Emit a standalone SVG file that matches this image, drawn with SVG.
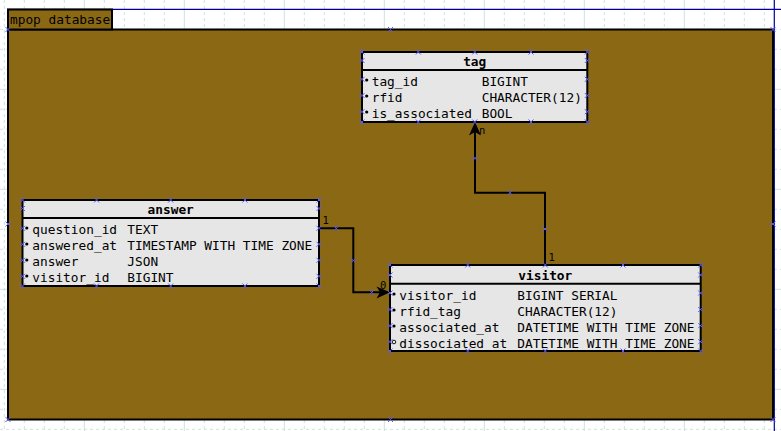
<svg xmlns="http://www.w3.org/2000/svg" xmlns:xlink="http://www.w3.org/1999/xlink" width="781" height="431" viewBox="0 0 781 431">
<style>
.t{font-family:"DejaVu Sans Mono","Liberation Mono",monospace;font-size:12.8px;fill:#000}
.h{font-family:"DejaVu Sans Mono","Liberation Mono",monospace;font-size:12.8px;font-weight:bold;fill:#000;text-anchor:middle}
.lbl{font-family:"DejaVu Sans Mono","Liberation Mono",monospace;font-size:10.5px;fill:#000}
.tbl{fill:#e6e6e6;stroke:#000;stroke-width:2}
.sep{stroke:#000;stroke-width:2}
.con{fill:none;stroke:#000;stroke-width:2}
.gmin{fill:none;stroke:#cfe0e0;stroke-width:1;stroke-dasharray:3 3}
.gmaj{fill:none;stroke:#cfe0e0;stroke-width:1}
.cp{stroke:#5a5aff;stroke-width:1;fill:none}
</style>
<defs>
<path id="cx" d="M-2.5-2.5L2.5 2.5M-2.5 2.5L2.5-2.5" class="cp"/>
</defs>
<rect width="781" height="431" fill="#fff"/>
<g id="grid">
<path class="gmin" d="M4.3 0V431M24.3 0V431M44.3 0V431M64.3 0V431M104.3 0V431M124.3 0V431M144.3 0V431M164.3 0V431M204.3 0V431M224.3 0V431M244.3 0V431M264.3 0V431M304.3 0V431M324.3 0V431M344.3 0V431M364.3 0V431M404.3 0V431M424.3 0V431M444.3 0V431M464.3 0V431M504.3 0V431M524.3 0V431M544.3 0V431M564.3 0V431M604.3 0V431M624.3 0V431M644.3 0V431M664.3 0V431M704.3 0V431M724.3 0V431M744.3 0V431M764.3 0V431"/>
<path class="gmin" d="M0 29.3H781M0 49.3H781M0 69.3H781M0 109.3H781M0 129.3H781M0 149.3H781M0 169.3H781M0 209.3H781M0 229.3H781M0 249.3H781M0 269.3H781M0 309.3H781M0 329.3H781M0 349.3H781M0 369.3H781M0 409.3H781M0 429.3H781"/>
<path class="gmaj" d="M84.3 0V431M184.3 0V431M284.3 0V431M384.3 0V431M484.3 0V431M584.3 0V431M684.3 0V431M0 89.3H781M0 189.3H781M0 289.3H781M0 389.3H781"/>
<path d="M7 9.3H781M774.3 0V431" stroke="#0000a0" stroke-width="1.2" fill="none"/>
</g>
<g id="mpop-database">
<rect x="8" y="29.5" width="765" height="390" fill="#8b6914" stroke="#000" stroke-width="2"/>
<rect x="8" y="9.5" width="104" height="20" fill="#8b6914" stroke="#000" stroke-width="2"/>
<text class="t" x="10" y="24">mpop database</text>
</g>
<g id="tag">
<rect class="tbl" x="362" y="52" width="225.3" height="70"/>
<line class="sep" x1="362" y1="70" x2="587.3" y2="70"/>
<text class="h" x="474.7" y="66">tag</text>
<text class="t" x="371.7" y="85.7">tag_id</text>
<text class="t" x="481.7" y="85.7">BIGINT</text>
<text class="t" x="371.7" y="101.7">rfid</text>
<text class="t" x="481.7" y="101.7">CHARACTER(12)</text>
<text class="t" x="371.7" y="117.7">is_associated</text>
<text class="t" x="481.7" y="117.7">BOOL</text>
<circle cx="366.7" cy="80" r="1.6"/>
<circle cx="366.7" cy="96" r="1.6"/>
<circle cx="366.7" cy="112" r="1.6"/>
</g>
<g id="answer">
<rect class="tbl" x="22.5" y="200" width="296.5" height="86"/>
<line class="sep" x1="22.5" y1="218" x2="319" y2="218"/>
<text class="h" x="170.7" y="214">answer</text>
<text class="t" x="32.3" y="233.7">question_id</text>
<text class="t" x="127.3" y="233.7">TEXT</text>
<text class="t" x="32.3" y="249.7">answered_at</text>
<text class="t" x="127.3" y="249.7">TIMESTAMP WITH TIME ZONE</text>
<text class="t" x="32.3" y="265.7">answer</text>
<text class="t" x="127.3" y="265.7">JSON</text>
<text class="t" x="32.3" y="281.7">visitor_id</text>
<text class="t" x="127.3" y="281.7">BIGINT</text>
<circle cx="26.8" cy="228" r="1.6"/>
<circle cx="26.8" cy="244" r="1.6"/>
<circle cx="26.8" cy="260" r="1.6"/>
<circle cx="26.8" cy="276" r="1.6"/>
</g>
<g id="visitor">
<rect class="tbl" x="390" y="265" width="310.7" height="86"/>
<line class="sep" x1="390" y1="283.7" x2="700.7" y2="283.7"/>
<text class="h" x="545.3" y="279.5">visitor</text>
<text class="t" x="399.3" y="299.5">visitor_id</text>
<text class="t" x="517.3" y="299.5">BIGINT SERIAL</text>
<text class="t" x="399.3" y="315.5">rfid_tag</text>
<text class="t" x="517.3" y="315.5">CHARACTER(12)</text>
<text class="t" x="399.3" y="331.5">associated_at</text>
<text class="t" x="517.3" y="331.5">DATETIME WITH TIME ZONE</text>
<text class="t" x="399.3" y="347.5">dissociated_at</text>
<text class="t" x="517.3" y="347.5">DATETIME WITH TIME ZONE</text>
<circle cx="394" cy="294" r="1.6"/>
<circle cx="394" cy="310" r="1.6"/>
<circle cx="394" cy="326" r="1.6"/>
<circle cx="394" cy="342" r="1.8" fill="none" stroke="#000" stroke-width="0.9"/>
</g>
<g id="connectors">
<path class="con" d="M319 228.3H353.3V292.3H381"/>
<polygon points="390,292.3 376.5,286.5 380,292.3 376.5,298.5"/>
<text class="lbl" x="322.5" y="224">1</text>
<text class="lbl" x="380" y="289">0</text>
<path class="con" d="M545 265V192.7H475V131"/>
<polygon points="475,122 469,135.5 475,132 481,135.5"/>
<text class="lbl" x="479" y="133.5">n</text>
<text class="lbl" x="548.5" y="261">1</text>
</g>
<g id="connection-points">
<use href="#cx" x="8" y="29.5"/><use href="#cx" x="390.5" y="29.5"/><use href="#cx" x="773" y="29.5"/>
<use href="#cx" x="8" y="224"/><use href="#cx" x="773" y="224"/>
<use href="#cx" x="8" y="419.5"/><use href="#cx" x="390.5" y="419.5"/><use href="#cx" x="773" y="419.5"/>
<use href="#cx" x="362" y="52"/><use href="#cx" x="418.3" y="52"/><use href="#cx" x="474.7" y="52"/><use href="#cx" x="531" y="52"/><use href="#cx" x="587.3" y="52"/>
<use href="#cx" x="362" y="122"/><use href="#cx" x="418.3" y="122"/><use href="#cx" x="474.7" y="122"/><use href="#cx" x="531" y="122"/><use href="#cx" x="587.3" y="122"/>
<use href="#cx" x="362" y="60.5"/><use href="#cx" x="362" y="79.3"/><use href="#cx" x="362" y="95.5"/><use href="#cx" x="362" y="111.7"/>
<use href="#cx" x="587.3" y="60.5"/><use href="#cx" x="587.3" y="79.3"/><use href="#cx" x="587.3" y="95.5"/><use href="#cx" x="587.3" y="111.7"/>
<use href="#cx" x="22.5" y="200"/><use href="#cx" x="96.6" y="200"/><use href="#cx" x="170.7" y="200"/><use href="#cx" x="244.9" y="200"/><use href="#cx" x="319" y="200"/>
<use href="#cx" x="22.5" y="286"/><use href="#cx" x="96.6" y="286"/><use href="#cx" x="170.7" y="286"/><use href="#cx" x="244.9" y="286"/><use href="#cx" x="319" y="286"/>
<use href="#cx" x="22.5" y="208.5"/><use href="#cx" x="22.5" y="228.3"/><use href="#cx" x="22.5" y="244.3"/><use href="#cx" x="22.5" y="260.3"/><use href="#cx" x="22.5" y="276.3"/>
<use href="#cx" x="319" y="208.5"/><use href="#cx" x="319" y="228.3"/><use href="#cx" x="319" y="244.3"/><use href="#cx" x="319" y="260.3"/><use href="#cx" x="319" y="276.3"/>
<use href="#cx" x="390" y="265"/><use href="#cx" x="467.7" y="265"/><use href="#cx" x="545.3" y="265"/><use href="#cx" x="623" y="265"/><use href="#cx" x="700.7" y="265"/>
<use href="#cx" x="390" y="351"/><use href="#cx" x="467.7" y="351"/><use href="#cx" x="545.3" y="351"/><use href="#cx" x="623" y="351"/><use href="#cx" x="700.7" y="351"/>
<use href="#cx" x="390" y="275"/><use href="#cx" x="390" y="293"/><use href="#cx" x="390" y="309.5"/><use href="#cx" x="390" y="325.7"/><use href="#cx" x="390" y="341.7"/>
<use href="#cx" x="700.7" y="275"/><use href="#cx" x="700.7" y="293"/><use href="#cx" x="700.7" y="309.5"/><use href="#cx" x="700.7" y="325.7"/><use href="#cx" x="700.7" y="341.7"/>
<use href="#cx" x="336.3" y="228.3"/><use href="#cx" x="353.3" y="260.5"/><use href="#cx" x="371.7" y="292.3"/>
<use href="#cx" x="475" y="158.3"/><use href="#cx" x="510" y="192.7"/><use href="#cx" x="545" y="229"/>
</g>
</svg>
